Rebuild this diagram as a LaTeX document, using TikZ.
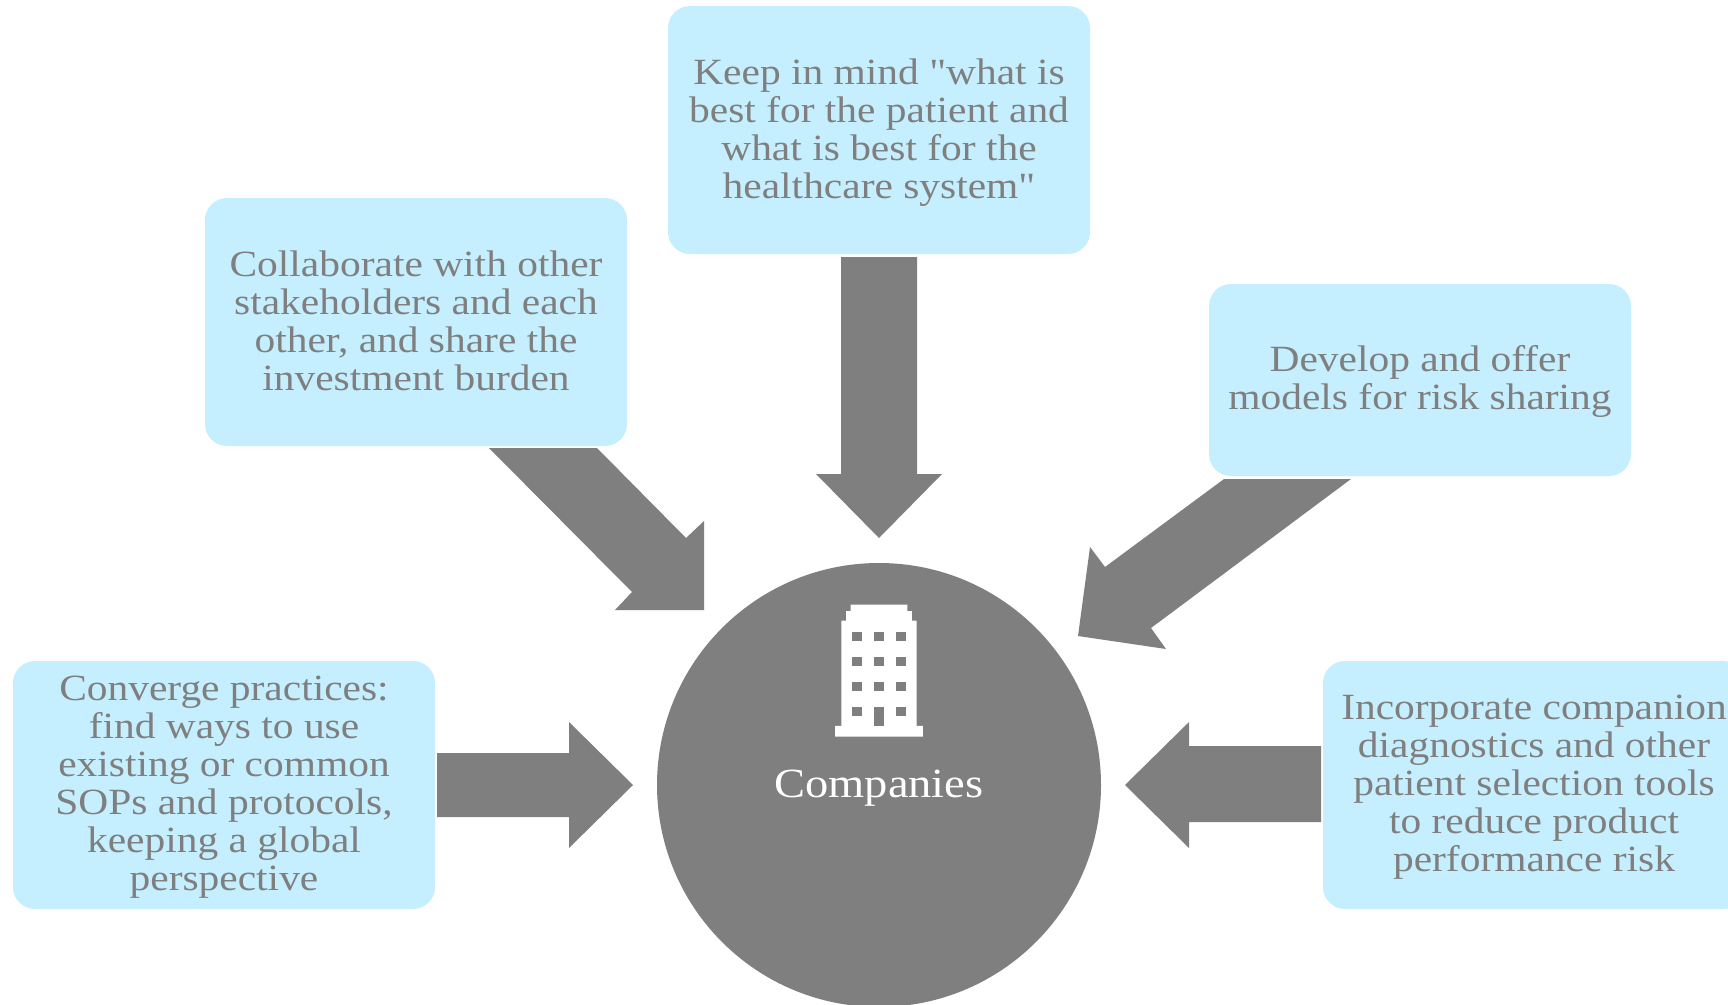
\documentclass[tikz,border=0pt]{standalone}
\usepackage{fontspec}
\newfontfamily\diagfont[FakeStretch=1.12]{Liberation Serif}
\definecolor{boxblue}{HTML}{C5EFFF}
\definecolor{midgray}{HTML}{7F7F7F}
\tikzset{
  tipbox/.style={fill=boxblue,rounded corners=22pt,minimum width=422pt,inner sep=0pt,outer sep=0pt},
  tiptext/.style={text=midgray,align=center,inner sep=0pt,font=\diagfont\fontsize{37}{38}\selectfont},
  blockarrow/.style={fill=midgray,draw=none},
  hubdisc/.style={circle,fill=midgray,minimum size=444pt,inner sep=0pt,outer sep=0pt},
  hublabel/.style={text=white,inner sep=0pt,font=\diagfont\fontsize{41.5}{44}\selectfont},
  windowpane/.style={fill=midgray,draw=none}
}
\begin{document}
\begin{tikzpicture}[x=1pt,y=-1pt]
\useasboundingbox (0,0) rectangle (1728,1004);
\fill[white] (0,0) rectangle (1728,1004);
% boxes
\node[tipbox,minimum height=248pt] (top) at (879,130) {};
\node[tiptext] (toptext) at (879,132.5) {Keep in mind "what is\\best for the patient and\\what is best for the\\healthcare system"};
\node[tipbox,minimum height=248pt] (ul) at (416,322) {};
\node[tiptext] (ultext) at (416,320.5) {Collaborate with other\\stakeholders and each\\other, and share the\\investment burden};
\node[tipbox,minimum height=192pt] (ur) at (1420,380) {};
\node[tiptext] (urtext) at (1420,381) {Develop and offer\\models for risk sharing};
\node[tipbox,minimum height=248pt] (ll) at (224,785) {};
\node[tiptext] (lltext) at (224,787) {Converge practices:\\find ways to use\\existing or common\\SOPs and protocols,\\keeping a global\\perspective};
\node[tipbox,minimum height=248pt] (lr) at (1534,785) {};
\node[tiptext] (lrtext) at (1534,787) {Incorporate companion\\diagnostics and other\\patient selection tools\\to reduce product\\performance risk};
% hub
\node[hubdisc] (hub) at (879,785) {};
\node[hublabel] (hubtext) at (879,788) {Companies};
% block arrows
\fill[blockarrow] (841,257) -- (917,257) -- (917,474) -- (942,474) -- (879,538) -- (816,474) -- (841,474) -- cycle;
\fill[blockarrow] (489,448) -- (597,448) -- (686,538) -- (704,521) -- (704,610) -- (615,610) -- (632,592) -- cycle;
\fill[blockarrow] (1224,479) -- (1351,479) -- (1151,628) -- (1166,649) -- (1078,636) -- (1090,547) -- (1105,567) -- cycle;
\fill[blockarrow] (437,753) -- (569,753) -- (569,722) -- (633,785) -- (569,848) -- (569,817) -- (437,817) -- cycle;
\fill[blockarrow] (1321,746) -- (1189,746) -- (1189,722) -- (1125,785) -- (1189,848) -- (1189,822) -- (1321,822) -- cycle;
% building icon
\begin{scope}[shift={(780,570)},x=0.3333pt,y=-0.3333pt]
\fill[white] (212,104) -- (382,104) -- (382,123) -- (396,123) -- (396,152) -- (410,152) -- (410,468) -- (429,468) -- (429,500) -- (165,500) -- (165,468) -- (184,468) -- (184,152) -- (198,152) -- (198,123) -- (212,123) -- cycle;
\foreach \wy in {185,260,336}{
  \foreach \wx in {217,283,349}{
    \fill[windowpane] (\wx,\wy) rectangle ++(28,28);
  }
}
\fill[windowpane] (217,411) rectangle ++(28,28);
\fill[windowpane] (349,411) rectangle ++(28,28);
\fill[windowpane] (283,411) rectangle (311,468);
\end{scope}
\end{tikzpicture}
\end{document}
